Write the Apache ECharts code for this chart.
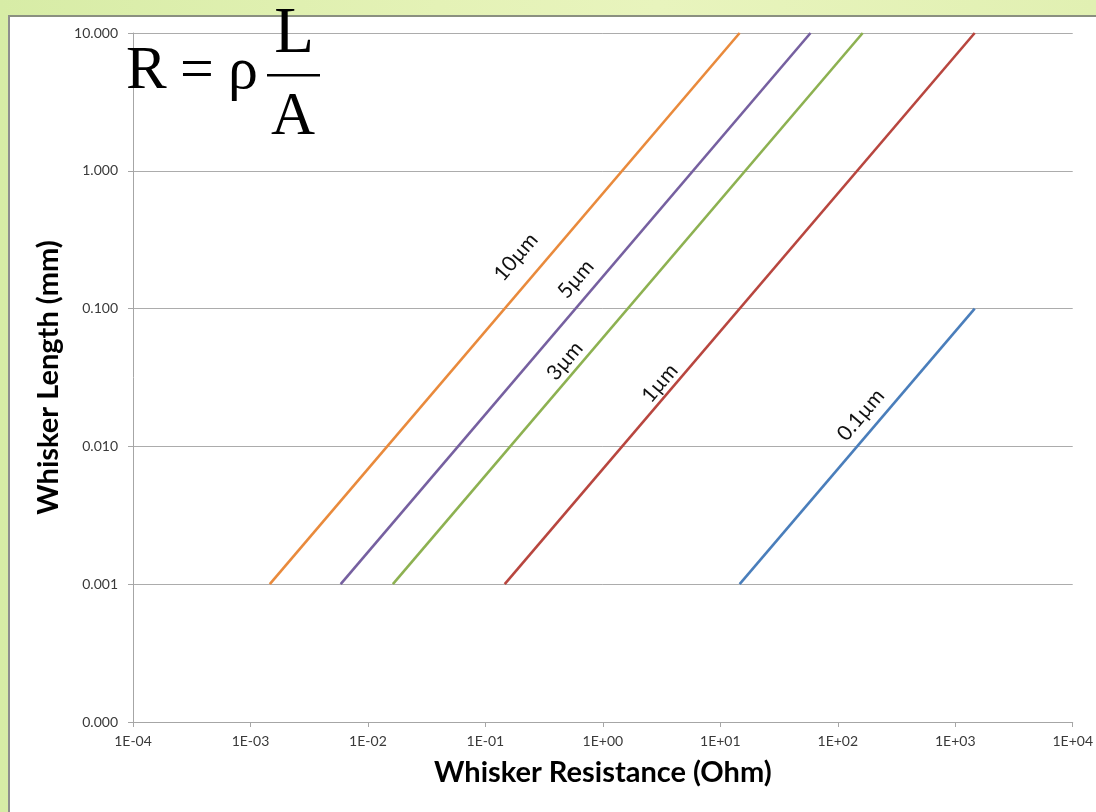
<!DOCTYPE html>
<html>
<head>
<meta charset="utf-8">
<script src="https://cdn.jsdelivr.net/npm/echarts@6/dist/echarts.min.js"></script>
<style>
  html, body { margin: 0; padding: 0; }
  body { width: 1096px; height: 812px; position: relative; overflow: hidden;
         background: linear-gradient(90deg, #d7eca6 0%, #e4f2b6 40%, #e8f4bd 60%, #e1f0b2 100%); }
  #panel { position: absolute; left: 8px; top: 15px; width: 1088px; height: 797px; background: #fff;
           border-left: 2px solid #8e8e8e; border-top: 2px solid #8a9080; box-sizing: border-box; }
  #chart { position: absolute; left: 0; top: 0; width: 1096px; height: 812px; }
</style>
</head>
<body>
<div id="panel"></div>
<div id="chart"></div>
<script>
// ---- data ----
const seriesNames = ['0.1µm', '1µm', '3µm', '5µm', '10µm'];
// resistance (Ohm) at start and end of each line
const resistance0p1 = [14.6, 1464];
const resistance1 = [0.146, 1464];
const resistance3 = [0.0163, 163];
const resistance5 = [0.00586, 58.6];
const resistance10 = [0.00146, 14.6];
// whisker length (mm) at start and end of each line
const length0p1 = [0.001, 0.1];
const length1 = [0.001, 10];
const length3 = [0.001, 10];
const length5 = [0.001, 10];
const length10 = [0.001, 10];
const seriesColors = ['#4A7EBB', '#B8463F', '#8DB151', '#7660A0', '#E98A3C'];
// label anchor points (data coords: resistance, length)
const labelR = [157, 3.05, 0.475, 0.589, 0.182];
const labelL = [0.0169, 0.0288, 0.0417, 0.164, 0.237];

const allR = [resistance0p1, resistance1, resistance3, resistance5, resistance10];
const allL = [length0p1, length1, length3, length5, length10];

const chart = echarts.init(document.getElementById('chart'), null, { renderer: 'canvas' });

const series = seriesNames.map((name, i) => ({
  name: name,
  type: 'line',
  symbol: 'none',
  lineStyle: { color: seriesColors[i], width: 2.6 },
  itemStyle: { color: seriesColors[i] },
  data: allR[i].map((r, j) => [r, allL[i][j]]),
  z: 5
}));

function expFmt(v) {
  const e = Math.round(Math.log10(v));
  return '1E' + (e < 0 ? '-' : '+') + String(Math.abs(e)).padStart(2, '0');
}

const formulaFont = '"Liberation Serif", "DejaVu Serif", serif';

chart.setOption({
  backgroundColor: 'transparent',
  animation: false,
  grid: { left: 133, right: 23, top: 33, bottom: 90, containLabel: false },
  xAxis: {
    type: 'log', logBase: 10, min: 1e-4, max: 1e4, splitNumber: 8,
    name: 'Whisker Resistance (Ohm)', nameLocation: 'middle', nameGap: 36,
    nameTextStyle: { fontFamily: 'Lato', fontWeight: 'bold', fontSize: 29, color: '#000' },
    axisLine: { show: true, lineStyle: { color: '#a6a6a6', width: 1 } },
    axisTick: { show: true, length: 5, lineStyle: { color: '#a6a6a6' } },
    minorTick: { show: false },
    splitLine: { show: false },
    axisLabel: { formatter: expFmt, fontFamily: 'Lato', fontSize: 14, color: '#3a3a3a', margin: 12,
                 showMinLabel: true, showMaxLabel: true }
  },
  yAxis: {
    type: 'log', logBase: 10, min: 1e-4, max: 10, splitNumber: 5,
    name: 'Whisker Length (mm)', nameLocation: 'middle', nameGap: 66,
    nameTextStyle: { fontFamily: 'Lato', fontWeight: 'bold', fontSize: 29, color: '#000' },
    axisLine: { show: true, lineStyle: { color: '#a6a6a6', width: 1 } },
    axisTick: { show: true, length: 5, lineStyle: { color: '#a6a6a6' } },
    minorTick: { show: false },
    splitLine: { show: true, lineStyle: { color: '#acacac', width: 1 } },
    axisLabel: { formatter: v => v.toFixed(3), fontFamily: 'Lato', fontSize: 14, color: '#3a3a3a', margin: 15,
                 showMinLabel: true, showMaxLabel: true }
  },
  series: series
});

// rotated labels along the lines
const angle = 49.6 * Math.PI / 180;
const labelEls = seriesNames.map((name, i) => {
  const p = chart.convertToPixel({ gridIndex: 0 }, [labelR[i], labelL[i]]);
  return {
    type: 'text', x: p[0], y: p[1], rotation: angle, z: 10,
    style: { text: name, fontFamily: 'Lato', fontSize: 21, fill: '#111',
             align: 'center', verticalAlign: 'middle' }
  };
});

const formulaEls = [
  { type: 'text', x: 126, y: 72, z: 10, style: { text: 'R', font: '61px ' + formulaFont, fill: '#000', align: 'left', verticalAlign: 'middle' } },
  { type: 'text', x: 180, y: 72, z: 10, style: { text: '=', font: '60px ' + formulaFont, fill: '#000', align: 'left', verticalAlign: 'middle' } },
  { type: 'text', x: 228, y: 72, z: 10, style: { text: 'ρ', font: '60px ' + formulaFont, fill: '#000', align: 'left', verticalAlign: 'middle' } },
  { type: 'rect', z: 10, shape: { x: 267, y: 74, width: 53, height: 2.5 }, style: { fill: '#000' } },
  { type: 'text', x: 294, y: 35, z: 10, style: { text: 'L', font: '65px ' + formulaFont, fill: '#000', align: 'center', verticalAlign: 'middle' } },
  { type: 'text', x: 293, y: 118, z: 10, style: { text: 'A', font: '61px ' + formulaFont, fill: '#000', align: 'center', verticalAlign: 'middle' } }
];

chart.setOption({ graphic: { elements: labelEls.concat(formulaEls) } });
</script>
</body>
</html>
